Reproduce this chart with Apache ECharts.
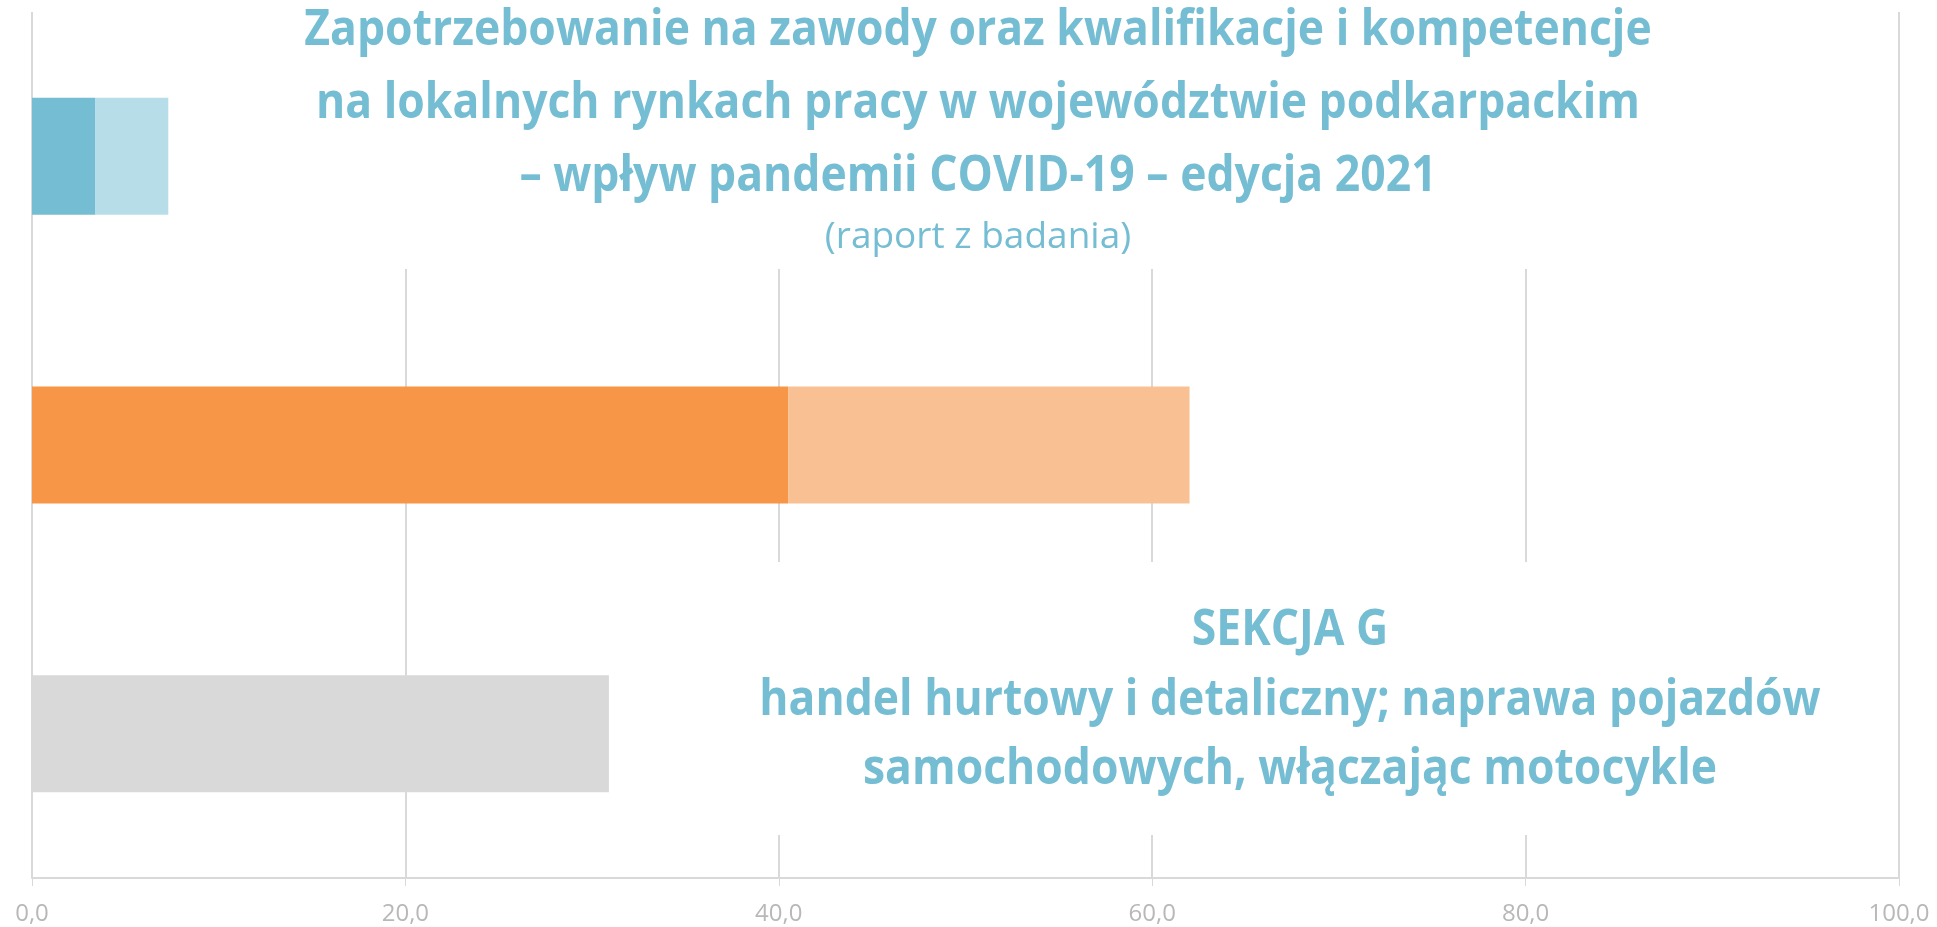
<!DOCTYPE html>
<html lang="pl">
<head>
    <meta charset="UTF-8">
    <title>Sekcja G</title>
    <script src="https://cdn.jsdelivr.net/npm/echarts@6/dist/echarts.min.js"></script>
    <style>
        *{margin:0;padding:0;box-sizing:border-box;}
        html,body{width:100%;height:100%;background:#fff;}
        #main{width:1937px;height:927px;}
    </style>
</head>
<body>
<div id="main"></div>
<script>
    // dane
    var categories = ['1', '2', '3']
    var firstPart = [3.4, 40.5, 30.9]
    var secondPart = [3.9, 21.5, 0]
    var darkColors = ['#74bdd2', '#f79646', '#d9d9d9']
    var lightColors = ['#b7dde8', '#f9c193', '#d9d9d9']
    var xTicks = [0, 20, 40, 60, 80, 100]

    var titleLines = [
        'Zapotrzebowanie na zawody oraz kwalifikacje i kompetencje',
        'na lokalnych rynkach pracy w województwie podkarpackim',
        '– wpływ pandemii COVID-19 – edycja 2021'
    ]
    var subtitle = '(raport z badania)'
    var sectionLines = [
        'SEKCJA G',
        'handel hurtowy i detaliczny; naprawa pojazdów',
        'samochodowych, włączając motocykle'
    ]

    var blue = '#75bdd3'
    var headFont = "'Open Sans', sans-serif"

    var myChart = echarts.init(document.getElementById('main'))

    // napisy jako grafika, lekko zwężone (oryginał ma węższy krój)
    function textLines(lines, cx, y0, step, size, weight, sx) {
        return lines.map(function (t, i) {
            return {
                type: 'text', x: cx, y: y0 + i * step, z: 101, scaleX: sx,
                style: {
                    text: t, fill: blue, font: weight + ' ' + size + 'px ' + headFont,
                    textAlign: 'center', textVerticalAlign: 'middle'
                }
            }
        })
    }

    var graphics = [
        {type: 'rect', z: 100, shape: {x: 290, y: 0, width: 1375, height: 269}, style: {fill: '#fff'}},
        {type: 'rect', z: 100, shape: {x: 740, y: 562, width: 1100, height: 273}, style: {fill: '#fff'}}
    ]
    graphics = graphics
        .concat(textLines(titleLines, 978, 31, 73, 50, 'bold', 0.89))
        .concat(textLines([subtitle], 978, 237, 0, 37, 'normal', 1))
        .concat(textLines(sectionLines, 1290, 631, 69.5, 50, 'bold', 0.89))

    var option = {
        animation: false,
        grid: {left: 32, right: 38, top: 12, bottom: 49, containLabel: false},
        xAxis: {
            type: 'value', min: 0, max: 100, interval: 20,
            axisLine: {show: true, lineStyle: {color: '#d9d9d9', width: 2}},
            axisTick: {show: true, length: 8, lineStyle: {color: '#d9d9d9', width: 1}},
            splitLine: {show: true, lineStyle: {color: '#d9d9d9', width: 2}},
            axisLabel: {
                margin: 24, color: '#b8b8b8', fontSize: 24, fontFamily: 'Open Sans',
                formatter: function (v) { return v.toFixed(1).replace('.', ',') }
            }
        },
        yAxis: {
            type: 'category', data: categories, inverse: true,
            axisLine: {show: false}, axisTick: {show: false}, axisLabel: {show: false}
        },
        series: [
            {
                type: 'bar', stack: 'a', barWidth: 117,
                data: firstPart.map(function (v, i) { return {value: v, itemStyle: {color: darkColors[i]}} })
            },
            {
                type: 'bar', stack: 'a', barWidth: 117,
                data: secondPart.map(function (v, i) { return {value: v, itemStyle: {color: lightColors[i]}} })
            }
        ],
        graphic: graphics
    }
    myChart.setOption(option)
</script>
</body>
</html>
